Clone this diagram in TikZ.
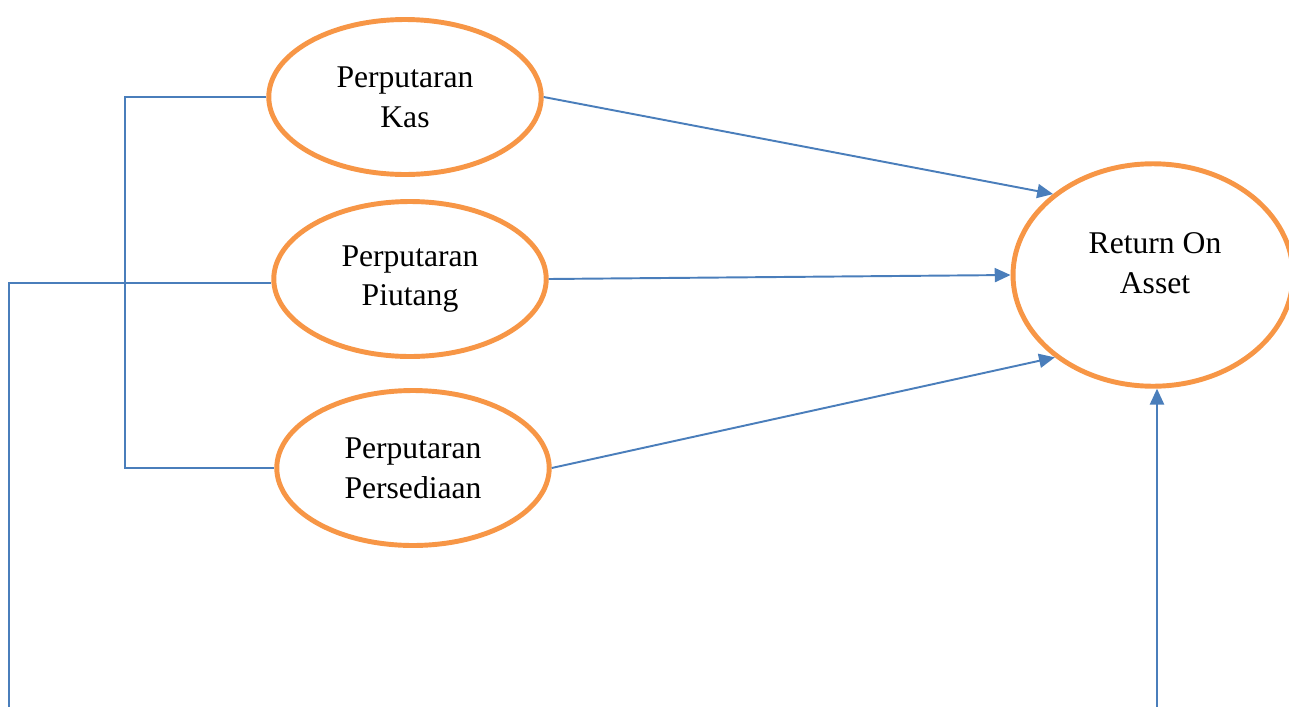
\documentclass[tikz,border=0pt]{standalone}
\usepackage{fontspec}
\setmainfont{Liberation Serif}
\usetikzlibrary{shapes.geometric,arrows.meta}
\definecolor{ovalorange}{RGB}{247,150,70}
\definecolor{linkblue}{RGB}{74,126,187}
\tikzset{
    oval/.style = {ellipse, draw = ovalorange, line width = 2.8pt, fill = white,
        minimum width = 5.45cm, minimum height = 3.1cm, inner sep = 0pt,
        align = center, font = \fontsize{18}{22.7}\selectfont},
    link/.style = {draw = linkblue, line width = 1.1pt},
    arrowlink/.style = {link, -{Triangle[length = 9pt, width = 8pt]}}
}
\begin{document}
\begin{tikzpicture}[x = 0.02cm, y = -0.02cm]
        \useasboundingbox (0, 0) rectangle (1289, 707);
        % variabel independen
        \node[oval] (kas) at (405, 97) {Perputaran\\Kas};
        \node[oval] (piutang) at (410, 279) {Perputaran\\Piutang};
        \node[oval] (persediaan) at (413, 468) {Perputaran\\Persediaan};
        % variabel dependen
        \node[oval, minimum width = 5.6cm, minimum height = 4.45cm] (roa) at (1153, 275) {};
        \node[font = \fontsize{18}{22.7}\selectfont, align = center] (roatext) at (1155, 263) {Return On\\Asset};
        \coordinate (kiribawah) at (9, 707);
        \coordinate (kananbawah) at (1157, 707);
        % garis kiri
        \draw[link] (kas.west) -- ++(-141, 0) |- (persediaan.west);
        \draw[link] ([yshift = -2.3pt]piutang.west) -| (kiribawah);
        % panah
        \draw[arrowlink] (kas.east) -- (roa.141);
        \draw[arrowlink] (piutang.east) -- (roa.west);
        \draw[arrowlink] (persediaan.east) -- (roa.220);
        \draw[arrowlink] (kananbawah) -- (kananbawah |- roa.south);
    \end{tikzpicture}
\end{document}
